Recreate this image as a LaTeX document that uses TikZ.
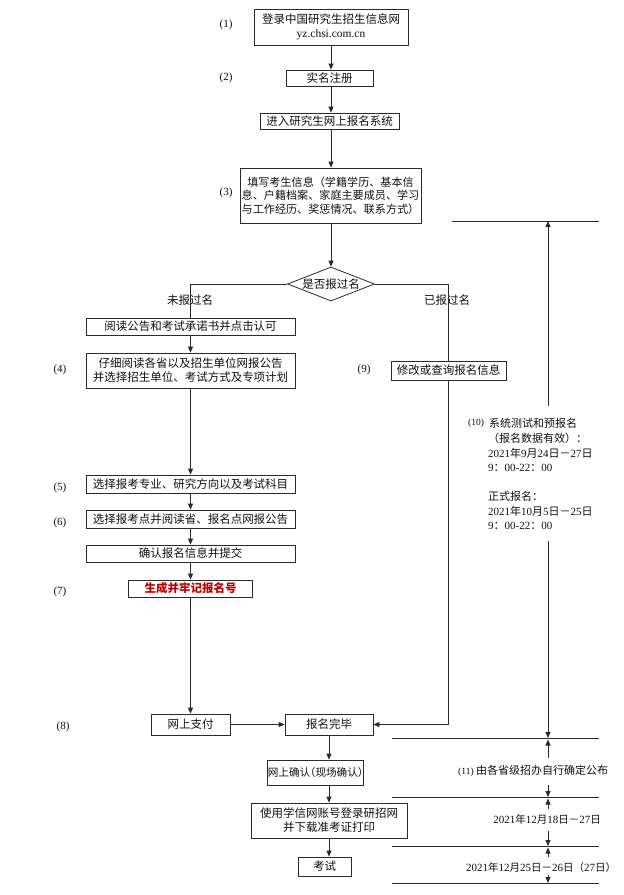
\documentclass[tikz,border=0pt]{standalone}
\usepackage{fontspec}
\setmainfont{Liberation Serif}
\newfontfamily\cjk{Noto Sans CJK SC}
\newfontfamily\cjkh{Noto Sans CJK SC}[RawFeature=+halt]
\newfontfamily\lat{Liberation Serif}
\usetikzlibrary{arrows.meta,shapes.geometric}
\definecolor{linec}{HTML}{2A2A2A}
\definecolor{txt}{HTML}{111111}
\definecolor{redt}{HTML}{C00000}
\begin{document}
\begin{tikzpicture}[x=1pt,y=-1pt,
  box/.style={draw=linec, line width=0.8pt, fill=white, inner sep=0pt, align=center,
    font=\cjk\fontsize{11.5}{14}\selectfont, text=txt},
  arr/.style={draw=linec, line width=0.8pt, -{Triangle[length=6pt,width=5pt]}},
  ln/.style={draw=linec, line width=0.8pt},
  lab/.style={font=\lat\fontsize{11}{13}\selectfont, text=txt, inner sep=0pt},
  ctext/.style={font=\cjk\fontsize{11.5}{14}\selectfont, text=txt, inner sep=0pt},
  dtext/.style={font=\cjk\fontsize{11}{13}\selectfont, text=txt, inner sep=0pt, anchor=west}]
\useasboundingbox[fill=white] (0,0) rectangle (624,895);

% main column
\node[box, minimum width=154, minimum height=36] (b1) at (331,27) {登录中国研究生招生信息网\\{\lat yz.chsi.com.cn}};
\node[box, minimum width=87, minimum height=16] (b2) at (329.5,78) {实名注册};
\node[box, minimum width=139, minimum height=16] (b3) at (329.5,121) {进入研究生网上报名系统};
\node[box, minimum width=181, minimum height=55, font=\cjk\fontsize{11.1}{13.3}\selectfont] (b4) at (330.5,195.5) {填写考生信息（学籍学历、基本信\\息、户籍档案、家庭主要成员、学习\\与工作经历、奖惩情况、联系方式）};
\node[draw=linec, line width=0.8pt, fill=white, diamond, shape aspect=2.56, minimum width=87, minimum height=34, inner sep=0pt, font=\cjk\fontsize{11.5}{14}\selectfont, text=txt] (d) at (331,284) {是否报过名};

% left branch
\node[box, minimum width=209, minimum height=17] (b5) at (190.5,326.5) {阅读公告和考试承诺书并点击认可};
\node[box, minimum width=209, minimum height=35] (b6) at (190.5,370.5) {仔细阅读各省以及招生单位网报公告\\并选择招生单位、考试方式及专项计划};
\node[box, minimum width=209, minimum height=18] (b7) at (190.5,484) {选择报考专业、研究方向以及考试科目};
\node[box, minimum width=209, minimum height=18] (b8) at (190.5,519) {选择报考点并阅读省、报名点网报公告};
\node[box, minimum width=209, minimum height=17] (bc) at (190.5,553.5) {确认报名信息并提交};
\node[box, minimum width=124, minimum height=17, text=redt, font=\cjk\bfseries\fontsize{11.5}{14}\selectfont] (b10) at (190.5,588.5) {生成并牢记报名号};
\node[box, minimum width=79, minimum height=21] (b11) at (190.5,724.5) {网上支付};

% right branch
\node[box, minimum width=115, minimum height=19] (b9) at (448.5,370.5) {修改或查询报名信息};

% bottom column
\node[box, minimum width=88, minimum height=21] (b12) at (329,724.5) {报名完毕};
\node[box, minimum width=95, minimum height=25, font=\cjkh\fontsize{10.6}{14}\selectfont] (b13) at (315.5,772.5) {网上确认（现场确认）};
\node[box, minimum width=156, minimum height=35] (b14) at (329,820.5) {使用学信网账号登录研招网\\并下载准考证打印};
\node[box, minimum width=53, minimum height=19] (b15) at (324.5,866.5) {考试};

% step labels
\node[lab] (l1) at (226,25) {(1)};
\node[lab] (l2) at (226,78) {(2)};
\node[lab] (l3) at (226,193) {(3)};
\node[lab] (l4) at (60,370) {(4)};
\node[lab] (l5) at (60,488) {(5)};
\node[lab] (l6) at (60,523) {(6)};
\node[lab] (l7) at (60,592) {(7)};
\node[lab] (l8) at (63,727) {(8)};
\node[lab] (l9) at (364,370) {(9)};

% branch labels
\node[ctext] (no) at (190,300) {未报过名};
\node[ctext] (yes) at (447,300) {已报过名};

% main arrows
\draw[arr] (b1.south) -- (b1.south |- b2.north);
\draw[arr] (b1.south |- b2.south) -- (b1.south |- b3.north);
\draw[arr] (b1.south |- b3.south) -- (b1.south |- b4.north);
\draw[arr] (b1.south |- b4.south) -- (d.north);
\draw[ln] (d.west) -| (b5.north);
\draw[arr] (b5.south) -- (b6.north);
\draw[arr] (b6.south) -- (b7.north);
\draw[arr] (b7.south) -- (b8.north);
\draw[arr] (b8.south) -- (bc.north);
\draw[arr] (bc.south) -- (b10.north);
\draw[arr] (b10.south) -- (b11.north);
\draw[arr] (b11.east) -- (b12.west);
\draw[ln] (d.east) -| (b9.north);
\draw[arr] (b9.south) |- (b12.east);
\draw[arr] (b12.south) -- (b12.south |- b13.north);
\draw[arr] (b12.south |- b13.south) -- (b12.south |- b14.north);
\draw[arr] (b12.south |- b14.south) -- (b12.south |- b15.north);

% right timeline
\coordinate (h0a) at (452,221); \coordinate (h0b) at (599,221);
\coordinate (h1a) at (392,738); \coordinate (h1b) at (599,738);
\coordinate (h2a) at (392,797); \coordinate (h2b) at (599,797);
\coordinate (h3a) at (392,846); \coordinate (h3b) at (599,846);
\coordinate (h4a) at (392,883); \coordinate (h4b) at (599,883);
\draw[ln] (h0a) -- (h0b);
\draw[ln] (h1a) -- (h1b);
\draw[ln] (h2a) -- (h2b);
\draw[ln] (h3a) -- (h3b);
\draw[ln] (h4a) -- (h4b);

\coordinate (t0) at (548,221);
\coordinate (s0) at (548,406);
\coordinate (s1) at (548,541);
\coordinate (t1) at (548,738);
\coordinate (t1u) at (548,739.5);
\coordinate (s1u) at (548,758);
\coordinate (s2) at (548,785);
\coordinate (t2) at (548,797);
\coordinate (t2u) at (548,798.5);
\coordinate (s2u) at (548,809);
\coordinate (s3) at (548,831);
\coordinate (t3) at (548,846);
\coordinate (t3u) at (548,847.5);
\coordinate (s3u) at (548,857);
\coordinate (s4) at (548,875);
\coordinate (t4) at (548,883);
\draw[arr] (s0) -- (t0);
\draw[arr] (s1) -- (t1);
\draw[arr] (s1u) -- (t1u);
\draw[arr] (s2) -- (t2);
\draw[arr] (s2u) -- (t2u);
\draw[arr] (s3) -- (t3);
\draw[arr] (s3u) -- (t3u);
\draw[arr] (s4) -- (t4);

% (10) text block
\node[lab, anchor=west, font=\lat\fontsize{9.5}{11}\selectfont] (l10) at (468,423) {(10)};
\node[dtext] (p1) at (489,423) {系统测试和预报名};
\node[dtext] (p2) at (488,438) {（报名数据有效）：};
\node[dtext] (p3) at (488,453) {{\lat 2021}年{\lat 9}月{\lat 24}日－{\lat 27}日};
\node[dtext] (p4) at (488,468) {{\lat 9}：{\lat 00-22}：{\lat 00}};
\node[dtext] (p5) at (488,496) {正式报名：};
\node[dtext] (p6) at (488,511) {{\lat 2021}年{\lat 10}月{\lat 5}日－{\lat 25}日};
\node[dtext] (p7) at (488,526) {{\lat 9}：{\lat 00-22}：{\lat 00}};

% (11) and dates
\node[dtext] (q1) at (458,771) {{\lat\fontsize{9.5}{11}\selectfont (11)}\ 由各省级招办自行确定公布};
\node[ctext, font=\cjk\fontsize{10.5}{13}\selectfont] (q2) at (547,819) {{\lat\fontsize{11}{13}\selectfont 2021}年{\lat\fontsize{11}{13}\selectfont 12}月{\lat\fontsize{11}{13}\selectfont 18}日－{\lat\fontsize{11}{13}\selectfont 27}日};
\node[ctext, font=\cjk\fontsize{10.5}{13}\selectfont] (q3) at (541,867) {{\lat\fontsize{11}{13}\selectfont 2021}年{\lat\fontsize{11}{13}\selectfont 12}月{\lat\fontsize{11}{13}\selectfont 25}日－{\lat\fontsize{11}{13}\selectfont 26}日（{\lat\fontsize{11}{13}\selectfont 27}日）};
\end{tikzpicture}
\end{document}
